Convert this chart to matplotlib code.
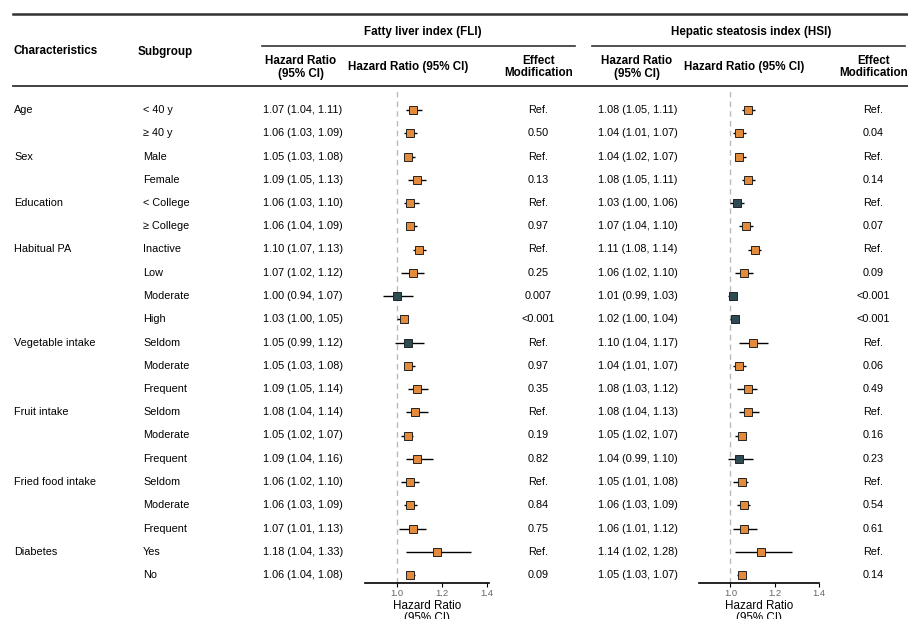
#! /usr/bin/env python
import matplotlib
matplotlib.use('Agg')
import matplotlib.pyplot as plt

plt.rcParams['font.family'] = ['Liberation Sans', 'DejaVu Sans']

# Table data
characteristics = ['Age', 'Sex', 'Education', 'Habitual PA',
                   'Vegetable intake', 'Fruit intake', 'Fried food intake',
                   'Diabetes']
subgroups = [['< 40 y', '\u2265 40 y'],
             ['Male', 'Female'],
             ['< College', '\u2265 College'],
             ['Inactive', 'Low', 'Moderate', 'High'],
             ['Seldom', 'Moderate', 'Frequent'],
             ['Seldom', 'Moderate', 'Frequent'],
             ['Seldom', 'Moderate', 'Frequent'],
             ['Yes', 'No']]

fli_hr = [1.07, 1.06, 1.05, 1.09, 1.06, 1.06, 1.10, 1.07, 1.00, 1.03,
          1.05, 1.05, 1.09, 1.08, 1.05, 1.09, 1.06, 1.06, 1.07, 1.18, 1.06]
fli_lo = [1.04, 1.03, 1.03, 1.05, 1.03, 1.04, 1.07, 1.02, 0.94, 1.00,
          0.99, 1.03, 1.05, 1.04, 1.02, 1.04, 1.02, 1.03, 1.01, 1.04, 1.04]
fli_hi = [1.11, 1.09, 1.08, 1.13, 1.10, 1.09, 1.13, 1.12, 1.07, 1.05,
          1.12, 1.08, 1.14, 1.14, 1.07, 1.16, 1.10, 1.09, 1.13, 1.33, 1.08]
fli_p = ['Ref.', '0.50', 'Ref.', '0.13', 'Ref.', '0.97', 'Ref.', '0.25',
         '0.007', '<0.001', 'Ref.', '0.97', '0.35', 'Ref.', '0.19', '0.82',
         'Ref.', '0.84', '0.75', 'Ref.', '0.09']
fli_sig = [1, 1, 1, 1, 1, 1, 1, 1, 0, 1, 0, 1, 1, 1, 1, 1, 1, 1, 1, 1, 1]

hsi_hr = [1.08, 1.04, 1.04, 1.08, 1.03, 1.07, 1.11, 1.06, 1.01, 1.02,
          1.10, 1.04, 1.08, 1.08, 1.05, 1.04, 1.05, 1.06, 1.06, 1.14, 1.05]
hsi_lo = [1.05, 1.01, 1.02, 1.05, 1.00, 1.04, 1.08, 1.02, 0.99, 1.00,
          1.04, 1.01, 1.03, 1.04, 1.02, 0.99, 1.01, 1.03, 1.01, 1.02, 1.03]
hsi_hi = [1.11, 1.07, 1.07, 1.11, 1.06, 1.10, 1.14, 1.10, 1.03, 1.04,
          1.17, 1.07, 1.12, 1.13, 1.07, 1.10, 1.08, 1.09, 1.12, 1.28, 1.07]
hsi_p = ['Ref.', '0.04', 'Ref.', '0.14', 'Ref.', '0.07', 'Ref.', '0.09',
         '<0.001', '<0.001', 'Ref.', '0.06', '0.49', 'Ref.', '0.16', '0.23',
         'Ref.', '0.54', '0.61', 'Ref.', '0.14']
hsi_sig = [1, 1, 1, 1, 0, 1, 1, 1, 0, 0, 1, 1, 1, 1, 1, 0, 1, 1, 1, 1, 1]

ticks = [1.0, 1.2, 1.4]

W, H = 908, 619
ROW0, DROW = 110, 23.25
ORANGE = '#E38B3B'
SLATE = '#2E4A52'
BODY = 7.8
HEAD = 8.4


def row_y(i):
    return ROW0 + i * DROW


def forest(fig, x0, x1, hr, lo, hi, sig, xlim):
    """Draw one forest panel, aligned on the table rows"""
    top, bottom = 90, 583
    ax = fig.add_axes([x0 / W, 1 - bottom / H, (x1 - x0) / W,
                       (bottom - top) / H])
    n = len(hr)
    rows = list(range(n))
    ax.axvline(1.0, color='#BBBBBB', lw=1.0, ls=(0, (4, 3)), zorder=1)
    ax.hlines(rows, lo, hi, color='black', lw=1.0, zorder=2)
    for r, v, s in zip(rows, hr, sig):
        ax.plot(v, r, marker='s', ms=5.6, mfc=ORANGE if s else SLATE,
                mec='#222222', mew=0.7, zorder=3)
    ax.set_xlim(*xlim)
    ax.set_ylim((bottom - ROW0) / DROW, (top - ROW0) / DROW)
    for s in ('top', 'right', 'left'):
        ax.spines[s].set_visible(False)
    ax.spines['bottom'].set_linewidth(1.2)
    ax.set_yticks([])
    ax.set_xticks(ticks)
    ax.set_xticklabels(['{:.1f}'.format(t) for t in ticks])
    ax.tick_params(axis='x', length=3, width=0.8, pad=1.5,
                   labelsize=6.8, labelcolor='#666666')
    ax.set_xlabel('Hazard Ratio\n(95% CI)', fontsize=HEAD, labelpad=1,
                  linespacing=1.0)
    ax.patch.set_alpha(0)
    return ax


def main():
    fig = plt.figure(figsize=(W / 100, H / 100), dpi=100)
    tab = fig.add_axes([0, 0, 1, 1])
    tab.set_xlim(0, W)
    tab.set_ylim(H, 0)
    tab.axis('off')

    # Rules
    tab.plot([13, W], [13.5, 13.5], color='#333333', lw=1.8)
    tab.plot([13, W], [86, 86], color='#333333', lw=1.3)
    tab.plot([262, 575], [45.5, 45.5], color='#333333', lw=1.2)
    tab.plot([592, 905], [45.5, 45.5], color='#333333', lw=1.2)

    # Header
    hb = dict(fontsize=HEAD, fontweight='bold', va='center')
    tab.text(423, 31.5, 'Fatty liver index (FLI)', ha='center', **hb)
    tab.text(751, 31.5, 'Hepatic steatosis index (HSI)', ha='center', **hb)
    tab.text(13, 51.5, 'Characteristics', ha='left', **hb)
    tab.text(138, 51.5, 'Subgroup', ha='left', **hb)
    for cx in (301, 637):
        tab.text(cx, 61, 'Hazard Ratio', ha='center', **hb)
        tab.text(cx, 73.5, '(95% CI)', ha='center', **hb)
    for cx in (408, 744):
        tab.text(cx, 67, 'Hazard Ratio (95% CI)', ha='center', **hb)
    for cx in (539, 874):
        tab.text(cx, 61, 'Effect', ha='center', **hb)
        tab.text(cx, 73.5, 'Modification', ha='center', **hb)

    # Body rows
    i = 0
    for name, subs in zip(characteristics, subgroups):
        tab.text(14, row_y(i), name, fontsize=BODY, va='center')
        for s in subs:
            y = row_y(i)
            tab.text(143, y, s, fontsize=BODY, va='center')
            tab.text(263, y, '{:.2f} ({:.2f}, {:.2f})'.format(
                fli_hr[i], fli_lo[i], fli_hi[i]), fontsize=BODY, va='center')
            tab.text(538, y, fli_p[i], fontsize=BODY, va='center',
                     ha='center')
            tab.text(598, y, '{:.2f} ({:.2f}, {:.2f})'.format(
                hsi_hr[i], hsi_lo[i], hsi_hi[i]), fontsize=BODY, va='center')
            tab.text(873, y, hsi_p[i], fontsize=BODY, va='center',
                     ha='center')
            i += 1

    forest(fig, 365, 489, fli_hr, fli_lo, fli_hi, fli_sig, (0.858, 1.409))
    forest(fig, 699, 819, hsi_hr, hsi_lo, hsi_hi, hsi_sig, (0.858, 1.391))

    fig.savefig('out.png', dpi=100)


if __name__ == '__main__':
    main()
